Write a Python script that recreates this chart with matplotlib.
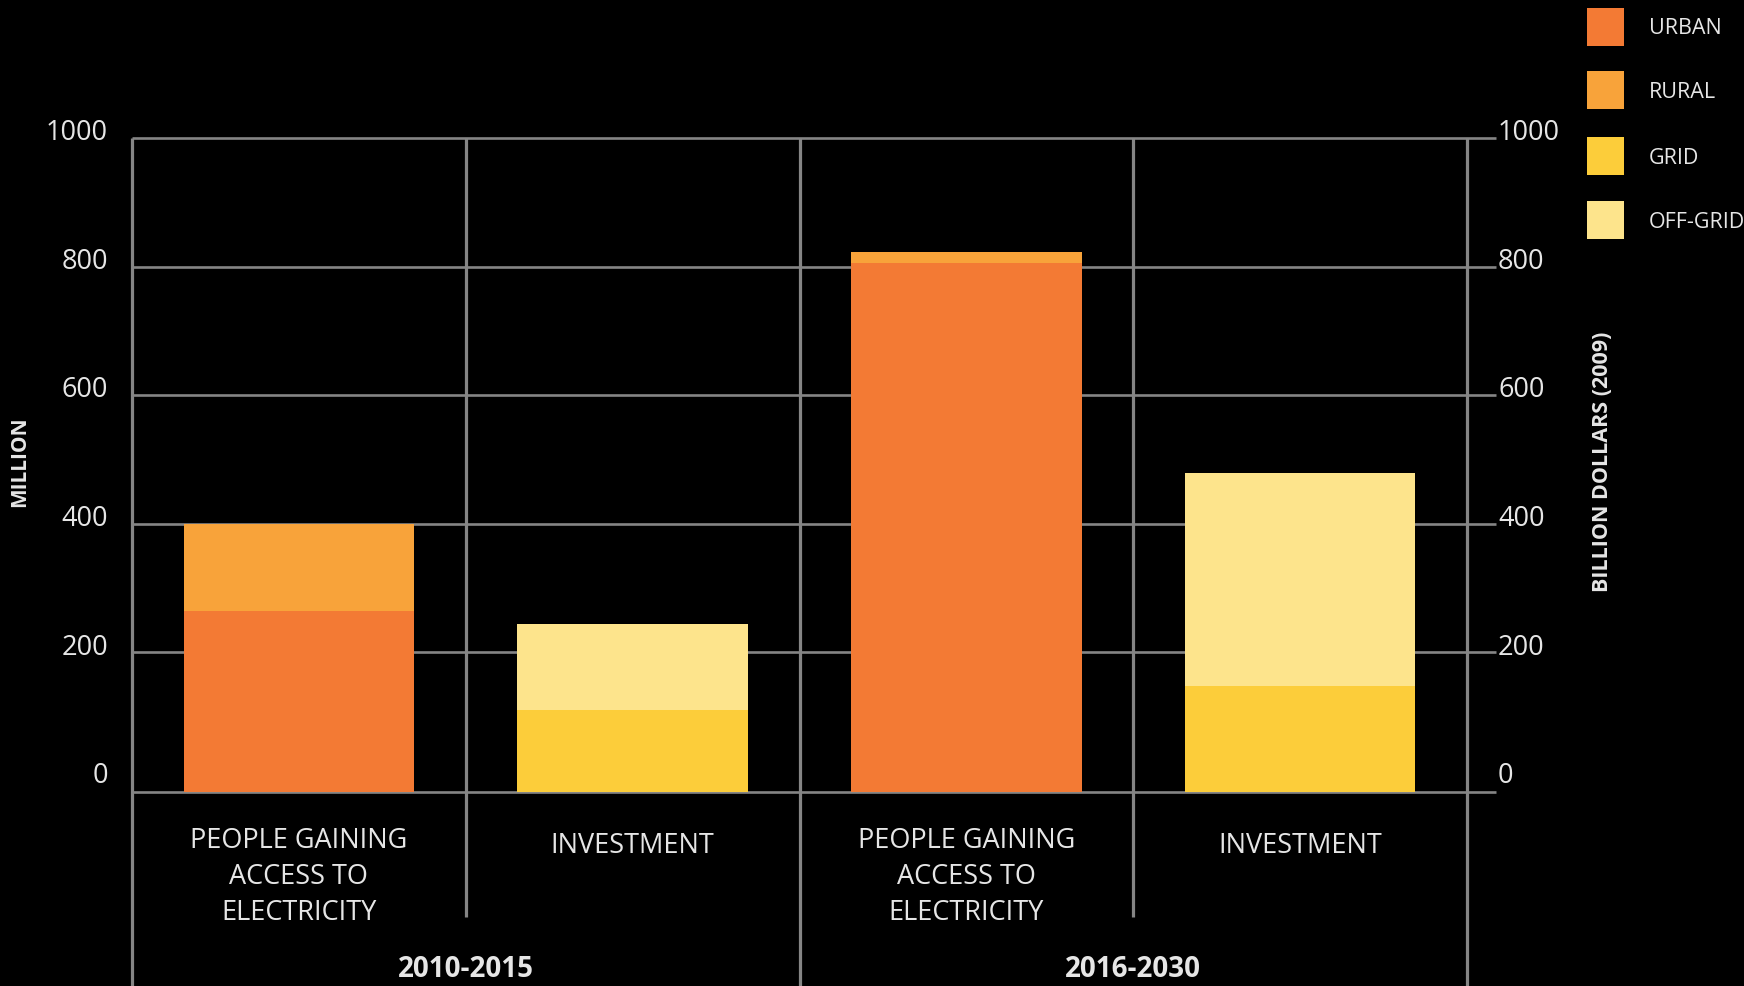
import numpy as np
import matplotlib
matplotlib.use('Agg')
import matplotlib.pyplot as plt
import matplotlib.patches as patches

# data
categories = ['PEOPLE GAINING\nACCESS TO\nELECTRICITY', 'INVESTMENT',
              'PEOPLE GAINING\nACCESS TO\nELECTRICITY', 'INVESTMENT']
periods = ['2010-2015', '2016-2030']
urban = [265, 0, 805, 0]
rural = [135, 0, 18, 0]
grid = [0, 110, 0, 148]
off_grid = [0, 135, 0, 331]
yticks = [0, 200, 400, 600, 800, 1000]
series_names = ['URBAN', 'RURAL', 'GRID', 'OFF-GRID']
series_colors = ['#F37A34', '#F8A33A', '#FCCD3A', '#FDE48C']

W, H = 1744, 987
plt.rcParams['font.family'] = ['Open Sans', 'DejaVu Sans']
txtcol = '#e6e6e6'
linecol = '#858585'
floor = -17  # baseline sits a little under zero in the original

fig = plt.figure(figsize=(W / 100, H / 100), dpi=100, facecolor='black')
ax = fig.add_axes([132 / W, 1 - 793 / H, (1467 - 132) / W, (793 - 139) / H])
ax.set_facecolor('black')
ax.set_xlim(0, 4)
ax.set_ylim(floor, 1000)
for s in ax.spines.values():
    s.set_visible(False)
ax.set_xticks([])
ax.set_yticks([])

# horizontal gridlines (the zero one drawn at the baseline)
ax.hlines([floor] + yticks[1:], 0, 4.087, colors=linecol, lw=1.9, zorder=1, clip_on=False)

# bars
x = np.arange(4) + 0.5
bw = 0.69
bottom = np.zeros(4)
for i, (vals, col) in enumerate(zip([urban, rural, grid, off_grid], series_colors)):
    v = np.array(vals, dtype=float)
    first = (bottom == 0) & (v > 0)
    b = np.where(first, floor, bottom)
    h = v - floor * first
    ax.bar(x, h, bw, bottom=b, color=col, zorder=2, linewidth=0)
    bottom += v

# vertical separators
ax.vlines([0, 2, 4], -340, 1000, colors=linecol, lw=2.3, zorder=3, clip_on=False)
ax.vlines([1, 3], -211, 1000, colors=linecol, lw=2.3, zorder=3, clip_on=False)

# tick labels
for t in yticks:
    ax.text(-0.072, t + 9, str(t), ha='right', va='center', color=txtcol,
            fontsize=19.5, clip_on=False)
    ax.text(4.093, t + 9, str(t), ha='left', va='center', color=txtcol,
            fontsize=19.5, clip_on=False)

# category labels
for xi, lab in zip(x, categories):
    if '\n' in lab:
        ax.text(xi, -148, lab, ha='center', va='center', color=txtcol,
                fontsize=19.5, linespacing=1.38, clip_on=False)
    else:
        ax.text(xi, -99, lab, ha='center', va='center', color=txtcol,
                fontsize=19.5, clip_on=False)

for xi, p in zip([1, 3], periods):
    ax.text(xi, -292, p, ha='center', va='center', color=txtcol,
            fontsize=20, fontweight='bold', clip_on=False)

# axis titles
fig.text(20 / W, 1 - 462 / H, 'MILLION', rotation=90, ha='center', va='center',
         color=txtcol, fontsize=15, fontweight='bold')
fig.text(1602 / W, 1 - 462 / H, 'BILLION DOLLARS (2009)', rotation=90, ha='center',
         va='center', color=txtcol, fontsize=15.5, fontweight='bold')

# legend
sq_top = [9, 72, 138, 202]
for top, name, col in zip(sq_top, series_names, series_colors):
    fig.add_artist(patches.Rectangle((1587 / W, 1 - (top + 38) / H), 37 / W, 38 / H,
                                     transform=fig.transFigure, facecolor=col,
                                     edgecolor='none'))
    fig.text(1649 / W, 1 - (top + 20) / H, name, ha='left', va='center',
             color=txtcol, fontsize=15.5)

fig.savefig('out.png', dpi=100, facecolor='black')
